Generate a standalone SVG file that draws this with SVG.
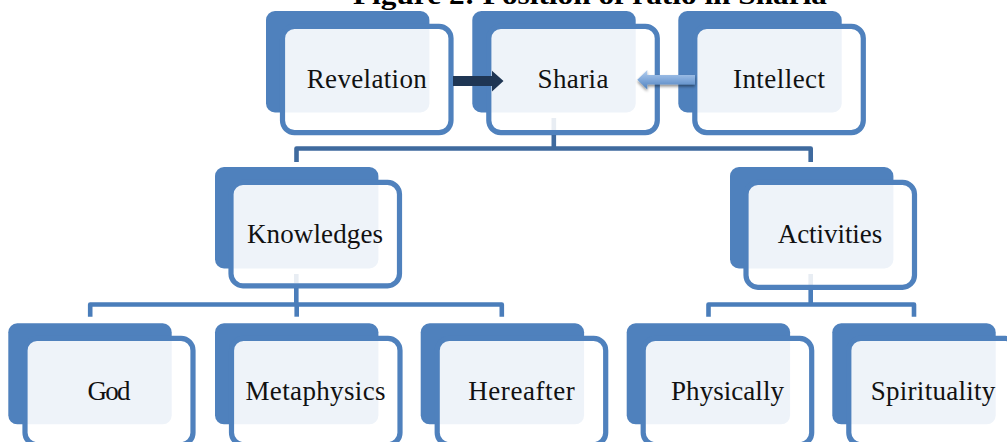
<svg xmlns="http://www.w3.org/2000/svg" width="1007" height="442" viewBox="0 0 1007 442">
<style>
.back{fill:#4F81BD;}
.front{fill:#FFFFFF;fill-opacity:0.9;stroke:#4F81BD;stroke-width:5.2;}
.lbl{font-family:"Liberation Serif","Times New Roman",serif;font-size:27px;fill:#111111;text-anchor:middle;}
.title{font-family:"Liberation Serif","Times New Roman",serif;font-size:28px;font-weight:bold;fill:#000000;}
.c1{fill:none;stroke:#3F6A9E;stroke-width:4.6;stroke-linejoin:round;}
.c2{fill:none;stroke:#4A7DBA;stroke-width:4.6;stroke-linejoin:round;}
.faint{fill:none;stroke:#3F6A9E;stroke-width:4.6;stroke-opacity:0.12;}
</style>
<defs>
<linearGradient id="lg" x1="0" y1="0" x2="0" y2="1">
<stop offset="0" stop-color="#B5CFEE"/>
<stop offset="0.5" stop-color="#80A8DA"/>
<stop offset="1" stop-color="#4F81BD"/>
</linearGradient>
<filter id="sh" x="-20%" y="-50%" width="140%" height="200%">
<feGaussianBlur in="SourceAlpha" stdDeviation="1.6"/>
<feOffset dx="0" dy="2" result="b"/>
<feComponentTransfer><feFuncA type="linear" slope="0.45"/></feComponentTransfer>
<feMerge><feMergeNode/><feMergeNode in="SourceGraphic"/></feMerge>
</filter>
</defs>
<rect width="1007" height="442" fill="#FFFFFF"/>
<text class="title" x="353" y="4" textLength="474" lengthAdjust="spacingAndGlyphs">Figure 2: Position of ratio in Sharia</text>

<g id="revelation"><rect class="back" x="266" y="11" width="163.4" height="101.5" rx="9"/><rect class="front" x="282.5" y="26.3" width="168.5" height="106.3" rx="12"/><text class="lbl" x="366.75" y="87.5" textLength="120" lengthAdjust="spacing">Revelation</text></g>
<g id="sharia"><rect class="back" x="472.3" y="11" width="163.4" height="101.5" rx="9"/><rect class="front" x="488.8" y="26.3" width="168.5" height="106.3" rx="12"/><text class="lbl" x="573" y="87.5" textLength="71" lengthAdjust="spacing">Sharia</text></g>
<g id="intellect"><rect class="back" x="678.3" y="11" width="163.4" height="101.5" rx="9"/><rect class="front" x="694.8" y="26.3" width="168.5" height="106.3" rx="12"/><text class="lbl" x="779" y="87.5" textLength="92" lengthAdjust="spacing">Intellect</text></g>

<g id="knowledges"><rect class="back" x="215" y="167" width="163.4" height="101.5" rx="9"/><rect class="front" x="231" y="182.3" width="168.5" height="103.5" rx="12"/><text class="lbl" x="315" y="243.3" textLength="136" lengthAdjust="spacing">Knowledges</text></g>
<g id="activities"><rect class="back" x="730" y="167" width="163.4" height="101.5" rx="9"/><rect class="front" x="746" y="182.3" width="168.5" height="105" rx="12"/><text class="lbl" x="830" y="243.3" textLength="104.5" lengthAdjust="spacing">Activities</text></g>

<g id="god"><rect class="back" x="8.3" y="323.3" width="163.4" height="101" rx="9"/><rect class="front" x="25" y="338.4" width="168" height="106.3" rx="12"/><text class="lbl" x="109" y="400" textLength="43" lengthAdjust="spacing">God</text></g>
<g id="metaphysics"><rect class="back" x="215" y="323.3" width="163.4" height="101" rx="9"/><rect class="front" x="231.5" y="338.4" width="168.5" height="106.3" rx="12"/><text class="lbl" x="315.5" y="400" textLength="140" lengthAdjust="spacing">Metaphysics</text></g>
<g id="hereafter"><rect class="back" x="420.7" y="323.3" width="163.4" height="101" rx="9"/><rect class="front" x="437.2" y="338.4" width="168.5" height="106.3" rx="12"/><text class="lbl" x="521.5" y="400" textLength="106.5" lengthAdjust="spacing">Hereafter</text></g>
<g id="physically"><rect class="back" x="626.7" y="323.3" width="163.4" height="101" rx="9"/><rect class="front" x="643.2" y="338.4" width="168.5" height="106.3" rx="12"/><text class="lbl" x="727.5" y="400" textLength="113" lengthAdjust="spacing">Physically</text></g>
<g id="spirituality"><rect class="back" x="832.3" y="323.3" width="163.4" height="101" rx="9"/><rect class="front" x="848.8" y="338.4" width="168.5" height="106.3" rx="12"/><text class="lbl" x="933" y="400" textLength="124.5" lengthAdjust="spacing">Spirituality</text></g>

<g id="connectors">
<path class="faint" d="M553.8,118 V130"/>
<path class="c1" d="M553.8,135 V148.5"/>
<path class="c1" d="M296.5,162 V148.5 H810.7 V162"/>
<path class="faint" d="M296.3,274 V283"/>
<path class="c2" d="M296.3,288 V304.5"/>
<path class="c2" d="M90.2,316.7 V304.5 H501.8 V316.7"/>
<path class="c2" d="M296.7,304.5 V316.7"/>
<path class="faint" d="M810.7,274 V285"/>
<path class="c2" d="M810.7,289.5 V304.5"/>
<path class="c2" d="M708.5,316.7 V304.5 H914 V316.7"/>
<polygon fill="#1F3654" points="453,76 492,76 492,70.7 503.5,81 492,91.5 492,86 453,86"/>
<polygon fill="url(#lg)" filter="url(#sh)" points="695,75 647.3,75 647.3,70 637.3,79.7 647.3,89.4 647.3,84.5 695,84.5"/>
</g>
</svg>
